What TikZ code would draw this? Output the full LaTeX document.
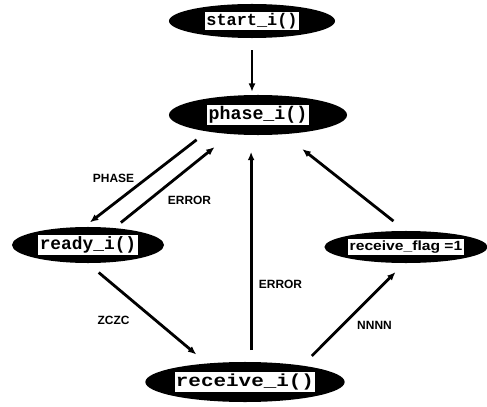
\documentclass[tikz,border=0pt]{standalone}
\usepackage{fontspec}
\usepackage{tikz}
\usetikzlibrary{shapes, arrows.meta, calc}
\newfontfamily\codefont{Liberation Mono}
\newfontfamily\labelfont{Liberation Sans}
\newcommand{\boxtxt}[1]{{\setlength{\fboxsep}{1pt}\colorbox{white}{#1}}}

\tikzset{
	state/.style={ellipse, fill=black, inner sep=0pt, outer sep=0pt},
	edge/.style={line width=2pt, -{Latex[length=6pt,width=5pt]}},
	lbl/.style={font=\labelfont\bfseries\fontsize{8.5}{10}\selectfont, inner sep=0pt}
}

\begin{document}
\begin{tikzpicture}[x=0.025cm, y=-0.025cm]
				\useasboundingbox (0,0) rectangle (487,407);
				
				% states
				\node[state, minimum width=4.15cm, minimum height=0.85cm] (start) at (252,21) {\boxtxt{\codefont\bfseries\fontsize{12}{14}\selectfont start\_i()}};
				\node[state, minimum width=4.45cm, minimum height=1cm] (phase) at (258,115) {\boxtxt{\codefont\bfseries\fontsize{13}{15}\selectfont phase\_i()}};
				\node[state, minimum width=3.8cm, minimum height=0.9cm] (ready) at (88,245) {\boxtxt{\codefont\bfseries\fontsize{12.7}{15}\selectfont ready\_i()}};
				\node[state, minimum width=4.05cm, minimum height=0.8cm] (flag) at (406,247) {\boxtxt{\scalebox{1.17}[1]{\labelfont\bfseries\fontsize{9.5}{11}\selectfont receive\_flag =1}}};
				\node[state, minimum width=4.15cm, minimum height=1cm] (receive) at (245,382) {\boxtxt{\scalebox{1.2}[1]{\codefont\bfseries\fontsize{12.4}{15}\selectfont receive\_i()}}};
				
				% transitions
				\draw[edge, shorten <=0.3cm, shorten >=0.08cm] (start.south) -- (start.south |- phase.north);
				\draw[edge, shorten <=0.34cm, shorten >=0.19cm] (phase.198) -- (ready.103);
				\draw[edge, shorten <=0.22cm, shorten >=0.52cm] (ready.33) -- (phase.215);
				\draw[edge, shorten <=0.3cm, shorten >=0.42cm] (receive.73) -- (receive.73 |- phase.south);
				\draw[edge, shorten <=0.4cm, shorten >=0.6cm] (flag.north) -- (phase.323);
				\draw[edge, shorten <=0.37cm, shorten >=0.35cm] (ready.268) -- (receive.154);
				\draw[edge, shorten <=0.34cm, shorten >=0.32cm] (receive.16) -- (flag.265);
				
				% labels
				\node[lbl] (lphase) at (113.5,178) {PHASE};
				\node[lbl] (lerr1) at (189.5,200) {ERROR};
				\node[lbl] (lerr2) at (280.5,284) {ERROR};
				\node[lbl] (lzczc) at (113.5,320) {ZCZC};
				\node[lbl] (lnnnn) at (374.5,325) {NNNN};
\end{tikzpicture}
\end{document}
